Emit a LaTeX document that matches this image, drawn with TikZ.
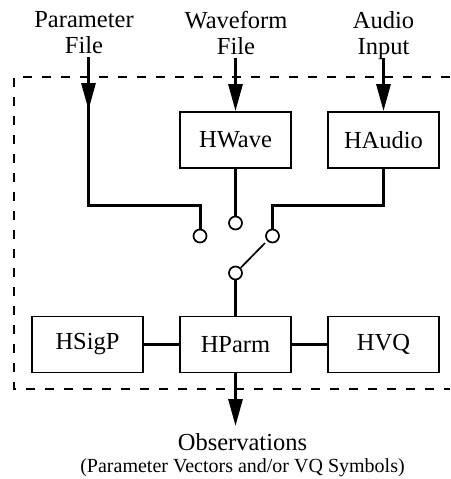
\documentclass[tikz,border=0pt]{standalone}
\usepackage{fontspec}
\setmainfont{Liberation Serif}
\usetikzlibrary{arrows.meta}
\begin{document}
\begin{tikzpicture}[x=1pt,y=-1pt,
  big/.style={font=\fontsize{24.5}{26}\selectfont},
  small/.style={font=\fontsize{20}{22}\selectfont},
  lbl/.style={big, inner sep=0pt, align=center, anchor=north},
  box/.style={draw, line width=1.8pt, minimum width=111pt, minimum height=56pt, inner sep=0pt, big},
  port/.style={draw, circle, line width=1.7pt, minimum size=13pt, inner sep=0pt},
  wire/.style={line width=3pt},
  arr/.style={line width=3pt, -{Triangle[length=27pt,width=14pt]}},
  lever/.style={line width=1.7pt},
  frame/.style={line width=1.4pt, dash pattern=on 9pt off 10pt}]
\useasboundingbox (0,0) rectangle (450,479);

% dashed module boundary
\draw[frame] (450,77) -- (14,77) -- (14,389) -- (450,389);

% input labels
\node[lbl] (pf) at (84,11) {Parameter\\File};
\node[lbl] (wf) at (236,11) {Waveform\\File};
\node[lbl] (ai) at (383.5,11) {Audio\\Input};

% boxes
\node[box] (hw) at (235.5,140) {HWave};
\node[box] (ha) at (383.5,140) {HAudio};
\node[box] (hs) at (87.5,344.5) {HSigP};
\node[box] (hp) at (235.5,344.5) {HParm};
\node[box] (hv) at (383.5,344.5) {HVQ};

% switch contacts
\node[port] (c1) at (200,236) {};
\node[port] (c2) at (235.5,223) {};
\node[port] (c3) at (272.5,236) {};
\node[port] (c4) at (235.5,273) {};
\coordinate (lv) at (265,243);

% output labels
\node[big, inner sep=0pt, anchor=base] (obs) at (242.5,450) {Observations};
\node[small, inner sep=0pt, anchor=base] (obs2) at (242.5,472) {(Parameter Vectors and/or VQ Symbols)};

% parameter file path
\coordinate (p0) at (88.5,57);
\coordinate (p1) at (88.5,110);
\coordinate (p2) at (88.5,205.5);
\draw[wire] (p0) -- (p2) -| (c1.north);
\draw[arr] (p0) -- (p1);

% waveform path
\draw[arr] (hw.north |- 0,58) -- (hw.north);
\draw[wire] (hw.south) -- (c2.north);

% audio path
\draw[arr] (ha.north |- 0,58) -- (ha.north);
\draw[wire] (ha.south) -- (ha.south |- 0,205.5) -| (c3.north);

% switch lever and output
\draw[lever] (c4.45) -- (lv);
\draw[wire] (c4.south) -- (hp.north);
\draw[wire] (hs.east) -- (hp.west);
\draw[wire] (hp.east) -- (hv.west);
\draw[arr] (hp.south) -- (hp.south |- 0,426);
\end{tikzpicture}
\end{document}
